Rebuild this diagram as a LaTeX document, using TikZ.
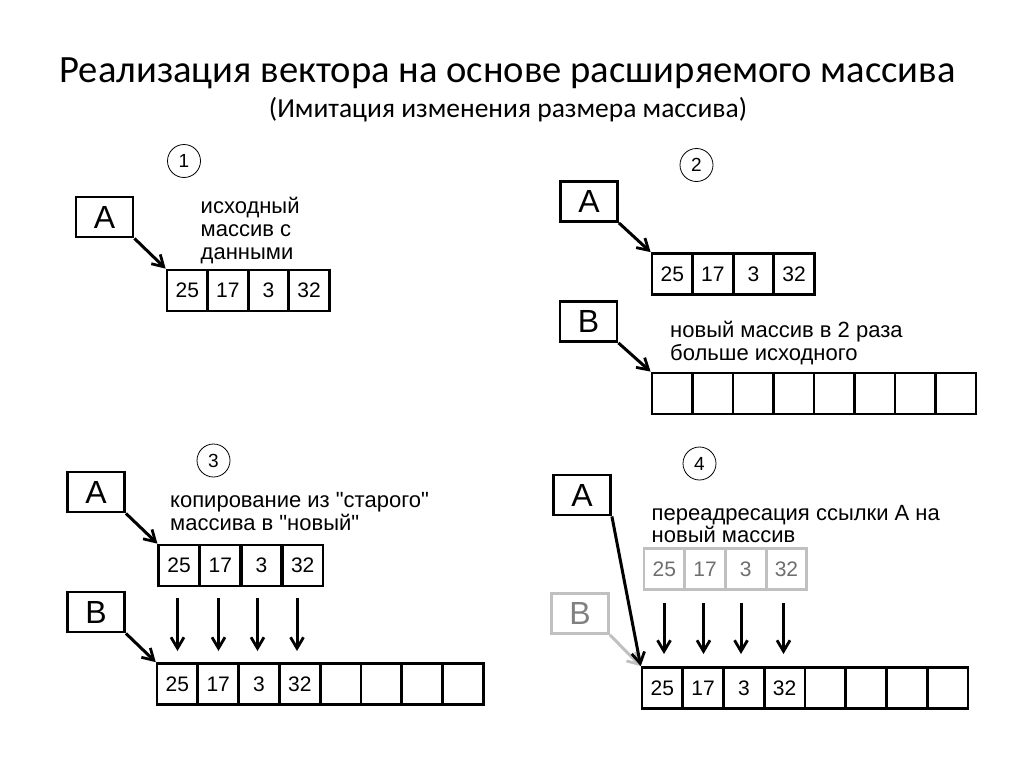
\documentclass[tikz,border=0pt]{standalone}
\usepackage{fontspec}
\setmainfont{Liberation Sans}[Ligatures=TeXOff]
\newfontfamily\titlefont{Carlito}
\usetikzlibrary{arrows.meta}
\definecolor{lgray}{RGB}{192,192,192}
\definecolor{tgray}{RGB}{110,110,110}
\begin{document}
\begin{tikzpicture}[x=1pt,y=-1pt,
  refbox/.style={draw,line width=2.8pt,minimum width=57pt,minimum height=40pt,inner sep=0pt,font=\fontsize{32}{36}\selectfont},
  cell/.style={draw,line width=2.7pt,minimum width=40.6pt,minimum height=41pt,inner sep=0pt,font=\fontsize{21}{24}\selectfont},
  numcirc/.style={draw,circle,line width=0.8pt,minimum size=33pt,inner sep=0pt,font=\fontsize{19}{22}\selectfont},
  lbl/.style={anchor=base west,inner sep=0pt,align=left,font=\fontsize{22}{23}\selectfont},
  ptr/.style={line width=3pt,-{Straight Barb[length=11pt,width=13pt,line width=2.8pt]}},
  ghost/.style={draw=lgray,text=tgray}
]
\useasboundingbox (0,0) rectangle (1024,768);
% title
\node[font=\titlefont\fontsize{38.6}{42}\selectfont,anchor=base,inner sep=0pt] (title) at (507.5,82) {Реализация вектора на основе расширяемого массива};
\node[font=\titlefont\fontsize{27.5}{30}\selectfont,anchor=base,inner sep=0pt] (subtitle) at (508,117) {(Имитация изменения размера массива)};

% ---------- panel 1
\node[numcirc] (n1) at (184,161) {1};
\node[refbox] (p1A) at (104.5,217) {A};
\node[lbl] (p1t) at (200.5,259) {исходный\\массив с\\данными};
\foreach \v [count=\i] in {25,17,3,32}
  \node[cell] (p1a\i) at ({167+(\i-0.5)*40.6},290.5) {\v};
\draw[ptr] (p1A.south east) -- (p1a1.north west);

% ---------- panel 2
\node[numcirc] (n2) at (696.5,165) {2};
\node[refbox] (p2A) at (589,201.5) {A};
\foreach \v [count=\i] in {25,17,3,32}
  \node[cell] (p2a\i) at ({652+(\i-0.5)*40.6},274) {\v};
\node[refbox] (p2B) at (588.5,321.5) {B};
\node[lbl] (p2t) at (670,360) {новый массив в 2 раза\\больше исходного};
\foreach \i in {1,...,8}
  \node[cell] (p2b\i) at ({652+(\i-0.5)*40.5},393.5) {};
\draw[ptr] (p2A.south east) -- (p2a1.north west);
\draw[ptr] (p2B.south east) -- (p2b1.north west);

% ---------- panel 3
\node[numcirc] (n3) at (213.5,460.5) {3};
\node[refbox] (p3A) at (96,492) {A};
\node[lbl] (p3t) at (170,530.5) {копирование из "старого"\\массива в "новый"};
\foreach \v [count=\i] in {25,17,3,32}
  \node[cell] (p3a\i) at ({158.5+(\i-0.5)*41.2},565.5) {\v};
\node[refbox] (p3B) at (96,612) {B};
\foreach \v [count=\i] in {25,17,3,32,{},{},{},{}}
  \node[cell] (p3b\i) at ({157+(\i-0.5)*40.8},684) {\v};
\draw[ptr] (p3A.south east) -- (p3a1.north west);
\draw[ptr] (p3B.south east) -- (p3b1.north west);
\foreach \x [count=\i] in {177.5,218.5,257.5,297}{
  \coordinate (p3s\i) at (\x,598);
  \coordinate (p3e\i) at (\x,651);
  \draw[ptr] (p3s\i) -- (p3e\i);
}

% ---------- panel 4
\node[numcirc] (n4) at (699.5,463.5) {4};
\node[refbox] (p4A) at (582,495) {A};
\node[lbl,font=\fontsize{22}{21.5}\selectfont] (p4t) at (651.5,542) {переадресация ссылки А на\\новый массив};
\foreach \v [count=\i] in {25,17,3,32}
  \node[cell,ghost] (p4a\i) at ({644+(\i-0.5)*40.7},569) {\v};
\node[refbox,ghost,text=gray] (p4B) at (580,613.5) {B};
\foreach \v [count=\i] in {25,17,3,32,{},{},{},{}}
  \node[cell] (p4b\i) at ({642+(\i-0.5)*40.75},688) {\v};
\draw[ptr,draw=lgray] (p4B.south east) -- (p4b1.north west);
\draw[ptr] (p4A.south east) -- (p4b1.north west);
\foreach \x [count=\i] in {664,703.5,741,783.5}{
  \coordinate (p4s\i) at (\x,603);
  \coordinate (p4e\i) at (\x,654);
  \draw[ptr] (p4s\i) -- (p4e\i);
}
\end{tikzpicture}
\end{document}
